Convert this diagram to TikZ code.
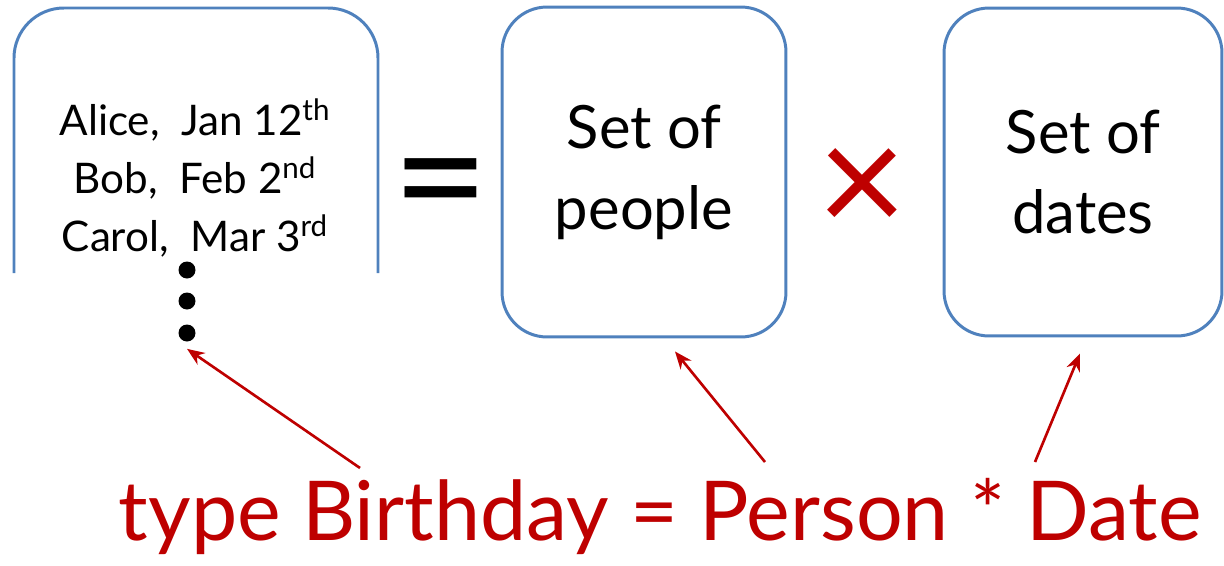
\documentclass[tikz,border=0pt]{standalone}
\usepackage{fontspec}
\setmainfont{Lato}
\usetikzlibrary{arrows.meta,positioning,calc}
\definecolor{boxblue}{RGB}{79,129,189}
\definecolor{declred}{RGB}{190,0,0}

\begin{document}
\begin{tikzpicture}[
  x=0.02cm, y=-0.02cm,
  setbox/.style={draw=boxblue, line width=1.7pt, rounded corners=0.9cm, minimum width=5.68cm, minimum height=6.6cm, align=center, font=\fontsize{34}{46}\selectfont},
  dotmark/.style={circle, fill=black, inner sep=0pt, minimum size=0.34cm},
  arr/.style={-{Stealth[length=10pt, width=8pt]}, draw=declred, line width=1.5pt}
]
  \useasboundingbox (0,0) rectangle (1224,565);

  % tuples box, open at the bottom
  \draw[boxblue, line width=1.7pt, rounded corners=1cm] (14,273) -- (14,8) -- (378,8) -- (378,273);
  \node[align=center, font=\fontsize{24}{33}\selectfont] (pairs) at (195,178)
    {Alice,~ Jan 12\textsuperscript{th}\\Bob,~ Feb 2\textsuperscript{nd}\\Carol,~ Mar 3\textsuperscript{rd}};
  \foreach \i/\y in {1/270,2/301,3/333}
    \node[dotmark] (dot\i) at (187,\y) {};

  \node[font=\fontsize{95}{95}\selectfont] (eq) at (441,197) {=};
  \node[setbox] (people) at (644,172) {Set of\\people};
  \node[text=declred, font=\fontsize{88}{88}\selectfont] (times) at (862,192) {×};
  \node[setbox, minimum width=5.56cm, minimum height=6.56cm] (dates) at (1083,172) {Set of\\dates};

  \node[anchor=base, text=declred, font=\fontsize{47}{47}\selectfont] (decl) at (660,540)
    {type Birthday = Person * Date};

  \coordinate (fromBday) at (360,468);
  \coordinate (fromPerson) at (765,462);
  \coordinate (fromDate) at (1035,462);

  \draw[arr] (fromBday) -- ($(dot3.south)+(0,7)$);
  \draw[arr] (fromPerson) -- ($(people.south)+(31,13)$);
  \draw[arr] (fromDate) -- ($(dates.south)+(-3,16)$);
\end{tikzpicture}
\end{document}
